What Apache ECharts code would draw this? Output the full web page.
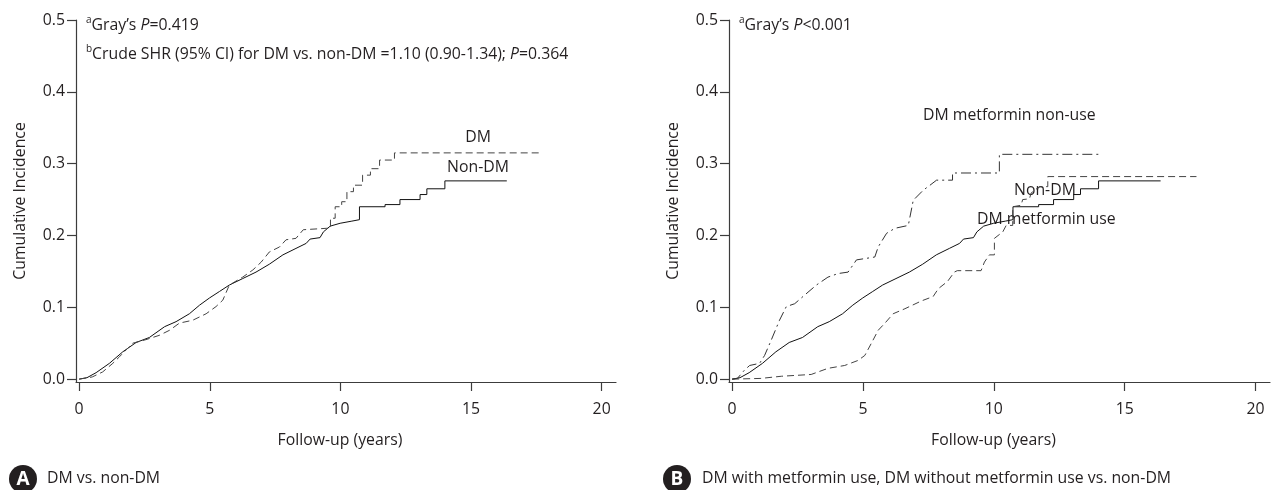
<!DOCTYPE html>
<html>
<head>
<meta charset="utf-8">
<script src="https://cdn.jsdelivr.net/npm/echarts@6/dist/echarts.min.js"></script>
<style>
html,body{margin:0;padding:0;background:#fff;}
#chart{width:1272px;height:490px;}
</style>
</head>
<body>
<div id="chart"></div>
<script>
// ---------- data ----------
var xTicks = [0, 5, 10, 15, 20];
var yTicks = [0, 0.1, 0.2, 0.3, 0.4, 0.5];

// Non-DM (solid), same in both panels
var nonDmT = [0, 0.3, 0.65, 1.16, 1.67, 2.18, 2.69, 3.27, 3.71, 4.22, 4.61, 4.99, 5.37, 5.75, 6.26, 6.77, 7.28, 7.80, 8.30, 8.69, 8.84, 9.22, 9.35, 9.61, 9.99, 10.44, 10.73, 10.73, 11.71, 11.71, 12.28, 12.28, 13.05, 13.05, 13.31, 13.31, 14.0, 14.0, 16.37];
var nonDmV = [0, 0.002, 0.009, 0.022, 0.038, 0.051, 0.058, 0.073, 0.080, 0.091, 0.103, 0.113, 0.122, 0.131, 0.140, 0.149, 0.160, 0.173, 0.182, 0.189, 0.195, 0.197, 0.205, 0.213, 0.217, 0.220, 0.222, 0.240, 0.240, 0.243, 0.243, 0.250, 0.250, 0.257, 0.257, 0.265, 0.265, 0.276, 0.276];

// DM (dashed), panel A
var dmT = [0, 0.5, 0.9, 1.29, 1.54, 2.05, 2.56, 3.07, 3.46, 3.84, 4.35, 4.86, 5.24, 5.50, 5.75, 6.26, 6.65, 6.97, 7.28, 7.67, 7.92, 8.30, 8.58, 9.48, 9.62, 9.62, 9.80, 9.80, 10.05, 10.05, 10.25, 10.25, 10.5, 10.5, 10.85, 10.85, 11.15, 11.15, 11.5, 11.5, 11.95, 11.95, 12.07, 12.07, 17.7];
var dmV = [0, 0.003, 0.010, 0.022, 0.031, 0.050, 0.055, 0.061, 0.068, 0.078, 0.082, 0.091, 0.101, 0.110, 0.131, 0.142, 0.152, 0.163, 0.177, 0.184, 0.194, 0.196, 0.208, 0.210, 0.210, 0.224, 0.224, 0.240, 0.240, 0.247, 0.247, 0.261, 0.261, 0.270, 0.270, 0.284, 0.284, 0.293, 0.293, 0.305, 0.305, 0.305, 0.305, 0.315, 0.315];

// DM metformin use (dashed), panel B
var metUseT = [0, 1.1, 1.88, 3.02, 3.66, 4.30, 4.81, 5.07, 5.32, 5.58, 5.84, 6.15, 6.6, 7.24, 7.68, 7.88, 8.23, 8.49, 8.6, 9.51, 9.64, 9.83, 10.02, 10.02, 10.34, 10.47, 10.72, 10.72, 11.04, 11.10, 11.36, 11.42, 11.74, 12.06, 12.06, 17.74];
var metUseV = [0, 0.001, 0.004, 0.0065, 0.015, 0.019, 0.026, 0.033, 0.050, 0.068, 0.078, 0.091, 0.098, 0.109, 0.115, 0.126, 0.136, 0.149, 0.151, 0.151, 0.163, 0.173, 0.173, 0.196, 0.205, 0.214, 0.214, 0.240, 0.242, 0.250, 0.251, 0.259, 0.268, 0.268, 0.282, 0.282];

// DM metformin non-use (dash-dot), panel B
var metNonT = [0, 0.2, 0.47, 0.67, 1.05, 1.24, 1.49, 1.81, 2.07, 2.39, 2.77, 3.22, 3.66, 4.05, 4.43, 4.75, 5.45, 5.58, 5.90, 6.22, 6.73, 6.92, 7.30, 7.56, 7.81, 8.42, 8.42, 10.21, 10.21, 14.04];
var metNonV = [0, 0.001, 0.0125, 0.019, 0.022, 0.033, 0.054, 0.082, 0.101, 0.105, 0.117, 0.131, 0.142, 0.147, 0.149, 0.166, 0.170, 0.184, 0.203, 0.210, 0.214, 0.249, 0.263, 0.270, 0.277, 0.277, 0.287, 0.287, 0.313, 0.313];

function pairs(t, v) { return t.map(function (x, i) { return [x, v[i]]; }); }

var FONT = '"Open Sans", "Noto Sans", sans-serif';
var FS = 15.8;
var TXT = '#231f20';
var AX = '#3c3c3c';

function xAxisDef(gi) {
  return {
    type: 'value', gridIndex: gi, min: -0.12, max: 20.55,
    name: 'Follow-up (years)', nameLocation: 'middle', nameGap: 50,
    nameTextStyle: { fontFamily: FONT, fontSize: FS, color: TXT, padding: [0, 12, 0, 0] },
    axisLine: { show: true, onZero: false, lineStyle: { color: AX, width: 1.2 } },
    axisTick: { show: true, length: 9, customValues: xTicks, lineStyle: { color: AX, width: 1.2 } },
    axisLabel: { customValues: xTicks, margin: 19, fontFamily: FONT, fontSize: FS, color: TXT },
    splitLine: { show: false }
  };
}
function yAxisDef(gi) {
  return {
    type: 'value', gridIndex: gi, min: -0.004, max: 0.5,
    name: 'Cumulative Incidence', nameLocation: 'middle', nameRotate: 90, nameGap: 48,
    nameTextStyle: { fontFamily: FONT, fontSize: FS, color: TXT },
    axisLine: { show: true, onZero: false, lineStyle: { color: AX, width: 1.2 } },
    axisTick: { show: true, length: 9, customValues: yTicks, lineStyle: { color: AX, width: 1.2 } },
    axisLabel: { customValues: yTicks, margin: 11, fontFamily: FONT, fontSize: FS, color: TXT,
      formatter: function (v) { return v.toFixed(1); } },
    splitLine: { show: false }
  };
}
function lineSeries(gi, data, color, type) {
  return {
    type: 'line', xAxisIndex: gi, yAxisIndex: gi, data: data,
    symbol: 'none', silent: true, animation: false,
    lineStyle: { color: color, width: 1, type: type }
  };
}

var rich = {
  sup: { fontSize: 10, verticalAlign: 'top', fontFamily: FONT, fill: TXT, lineHeight: 20 },
  i: { fontStyle: 'italic', fontSize: FS, fontFamily: FONT, fill: TXT, lineHeight: 20 },
  n: { fontSize: FS, fontFamily: FONT, fill: TXT, lineHeight: 20 }
};
function txt(x, y, text, align) {
  return { type: 'text', x: x, y: y, silent: true,
    style: { text: text, fill: TXT, font: FS + 'px ' + FONT, textAlign: align || 'left', textVerticalAlign: 'middle' } };
}
function richTxt(x, y, text) {
  return { type: 'text', x: x, y: y, silent: true,
    style: { text: text, rich: rich, fill: TXT, font: FS + 'px ' + FONT, textAlign: 'left', textVerticalAlign: 'middle' } };
}
function badge(cx, cy, letter) {
  return [
    { type: 'circle', shape: { cx: cx, cy: cy, r: 14 }, style: { fill: '#231f20' }, silent: true },
    { type: 'text', x: cx, y: cy + 1, silent: true,
      style: { text: letter, fill: '#fff', font: 'bold 19px ' + FONT, textAlign: 'center', textVerticalAlign: 'middle' } }
  ];
}

var chart = echarts.init(document.getElementById('chart'), null, { renderer: 'canvas' });
chart.setOption({
  animation: false,
  backgroundColor: '#fff',
  grid: [
    { left: 76, top: 20, width: 540, height: 362 },
    { left: 729, top: 20, width: 541, height: 362 }
  ],
  xAxis: [xAxisDef(0), xAxisDef(1)],
  yAxis: [yAxisDef(0), yAxisDef(1)],
  series: [
    lineSeries(0, pairs(nonDmT, nonDmV), '#111', 'solid'),
    lineSeries(0, pairs(dmT, dmV), '#444', [7, 4]),
    lineSeries(1, pairs(nonDmT, nonDmV), '#111', 'solid'),
    lineSeries(1, pairs(metUseT, metUseV), '#444', [7, 4]),
    lineSeries(1, pairs(metNonT, metNonV), '#333', [10, 4, 2, 4])
  ],
  graphic: [
    richTxt(86, 25, '{sup|a}{n|Gray’s }{i|P}{n|=0.419}'),
    richTxt(86, 54, '{sup|b}{n|Crude SHR (95% CI) for DM vs. non-DM =1.10 (0.90-1.34); }{i|P}{n|=0.364}'),
    txt(478, 137, 'DM', 'center'),
    txt(478, 167, 'Non-DM', 'center'),
    richTxt(739, 25, '{sup|a}{n|Gray’s }{i|P}{n|<0.001}'),
    txt(923, 115, 'DM metformin non-use'),
    txt(1014, 190, 'Non-DM'),
    txt(977, 219, 'DM metformin use'),
    txt(47, 478, 'DM vs. non-DM'),
    txt(702, 478, 'DM with metformin use, DM without metformin use vs. non-DM')
  ].concat(badge(23, 479, 'A')).concat(badge(677, 479, 'B'))
});
</script>
</body>
</html>
